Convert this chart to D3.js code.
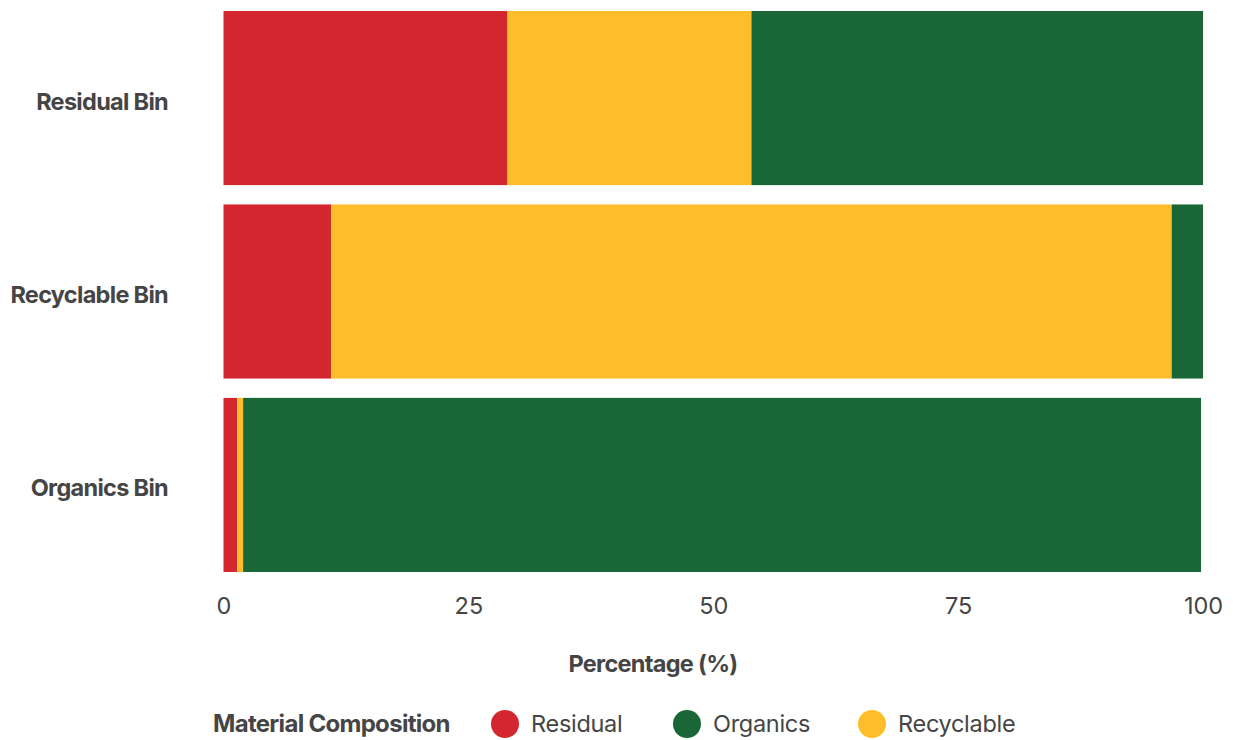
<!DOCTYPE html>
<html><head><meta charset="utf-8">
<script src="https://cdn.jsdelivr.net/npm/d3@7"></script>
<style>
html,body{margin:0;padding:0;background:#fff;}
svg{display:block;font-family:Inter, "Noto Sans", sans-serif;}
</style></head>
<body>
<svg id="chart" width="1244" height="740"></svg>
<script>
const bins = ["Residual Bin", "Recyclable Bin", "Organics Bin"];
const seriesNames = ["Residual", "Recyclable", "Organics"];
const residual = [29.0, 11.0, 1.4];
const recyclable = [24.9, 85.8, 0.6];
const organics = [46.1, 3.2, 97.8];
const tickValues = [0, 25, 50, 75, 100];
const legendOrder = ["Residual", "Organics", "Recyclable"];
const colors = {Residual: "#D3262E", Recyclable: "#FEBE29", Organics: "#196736"};

const rows = bins.map((b, i) => ({bin: b, Residual: residual[i], Recyclable: recyclable[i], Organics: organics[i]}));
const stacked = d3.stack().keys(seriesNames)(rows);

const svg = d3.select("#chart");
const x = d3.scaleLinear().domain([0, 100]).range([223.5, 1203]);
const y = d3.scaleBand().domain(bins).range([1.35, 581.65]).paddingInner(0.1).paddingOuter(0.05);
const textColor = "#454545";

svg.append("g").selectAll("g").data(stacked).join("g")
  .attr("fill", d => colors[d.key])
  .selectAll("rect").data(d => d).join("rect")
  .attr("x", d => x(d[0]))
  .attr("y", d => y(d.data.bin))
  .attr("width", d => x(d[1]) - x(d[0]))
  .attr("height", y.bandwidth());

// y labels
const yAxis = svg.append("g").attr("transform", "translate(168,4)")
  .call(d3.axisLeft(y).tickSize(0).tickPadding(0));
yAxis.select(".domain").remove();
yAxis.selectAll("text").attr("fill", textColor).attr("font-size", 23.5).attr("font-weight", 700)
  .attr("letter-spacing", "-0.7").attr("font-family", "Inter, sans-serif");

// x axis
const xAxis = svg.append("g").attr("transform", "translate(0,590)")
  .call(d3.axisBottom(x).tickValues(tickValues).tickSize(0).tickPadding(0).tickFormat(d3.format("d")));
xAxis.select(".domain").remove();
xAxis.selectAll("text").attr("fill", textColor).attr("font-size", 23.5).attr("font-weight", 400)
  .attr("dy", "0").attr("y", 23.5).attr("font-family", "Inter, sans-serif");

svg.append("text").attr("x", 653).attr("y", 672).attr("text-anchor", "middle")
  .attr("fill", textColor).attr("font-size", 23.5).attr("font-weight", 700).attr("letter-spacing", "-0.7")
  .text("Percentage (%)");

// legend
const lg = svg.append("g");
lg.append("text").attr("x", 213).attr("y", 732).attr("fill", textColor)
  .attr("font-size", 24).attr("font-weight", 700).attr("letter-spacing", "-0.7").text("Material Composition");
const legX = {Residual: 505, Organics: 687, Recyclable: 872};
legendOrder.forEach(k => {
  lg.append("circle").attr("cx", legX[k]).attr("cy", 724).attr("r", 14).attr("fill", colors[k]);
  lg.append("text").attr("x", legX[k] + 26).attr("y", 732).attr("fill", textColor)
    .attr("font-size", 23.5).attr("letter-spacing", "-0.3").text(k);
});
</script>
</body></html>
